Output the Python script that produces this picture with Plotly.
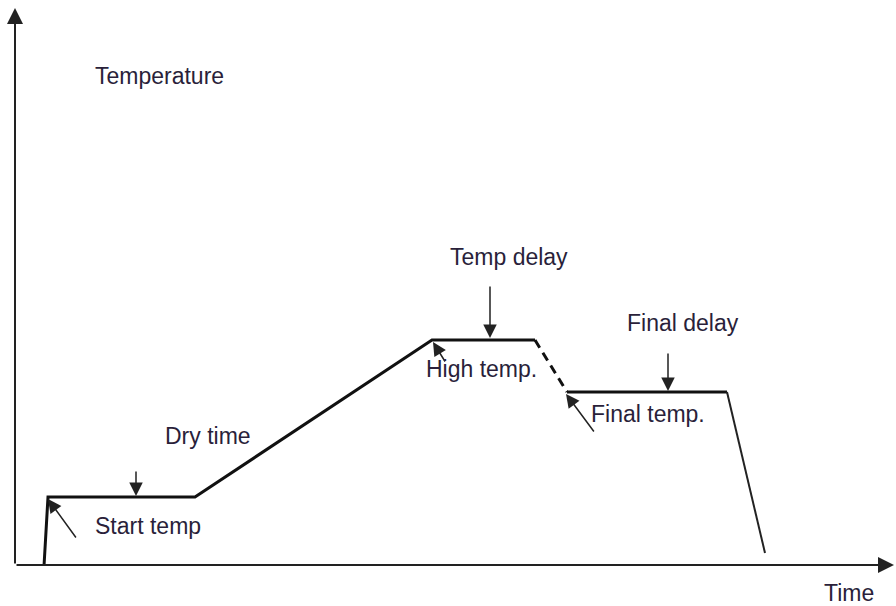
import plotly.graph_objects as go

# Pixel-space schematic of a temperature program
W, H = 896, 606

# profile segments (x in px, y in px from top)
rise_x = [44, 48, 195, 432, 535]
rise_y = [566, 497, 497, 340, 340]
ramp_down_x = [535, 567]
ramp_down_y = [340, 392]
final_x = [567, 727]
final_y = [392, 392]
cool_x = [727, 765]
cool_y = [392, 553]

# axes (origin, ends)
axis_origin = (15, 565)
axis_y_top = (15, 8)
axis_x_right = (894, 565)

# labels
labels = ["Temperature", "Dry time", "Start temp", "Temp delay", "High temp.",
          "Final delay", "Final temp.", "Time"]
label_x = [93, 163, 93, 448, 424, 625, 589, 822]
label_y = [76, 436, 526, 257, 369, 323, 414, 593]

# pointer arrows: tail -> head
arrow_tail_x = [77, 136, 446, 490, 595, 668]
arrow_tail_y = [539, 470, 363, 285, 433, 352]
arrow_head_x = [48, 136, 433, 490, 566, 668]
arrow_head_y = [499, 496, 342, 338, 394, 391]

fig = go.Figure()
line_col = "#111111"
fig.add_trace(go.Scatter(x=rise_x, y=rise_y, mode="lines",
                         line=dict(color=line_col, width=3), hoverinfo="skip"))
fig.add_trace(go.Scatter(x=ramp_down_x, y=ramp_down_y, mode="lines",
                         line=dict(color=line_col, width=3, dash="9px,6px"), hoverinfo="skip"))
fig.add_trace(go.Scatter(x=final_x, y=final_y, mode="lines",
                         line=dict(color=line_col, width=3), hoverinfo="skip"))
fig.add_trace(go.Scatter(x=cool_x, y=cool_y, mode="lines",
                         line=dict(color="#222222", width=2), hoverinfo="skip"))

annotations = []
# axes with arrowheads
for end in (axis_y_top, axis_x_right):
    annotations.append(dict(x=end[0], y=end[1], ax=axis_origin[0], ay=axis_origin[1],
                            xref="x", yref="y", axref="x", ayref="y", text="",
                            showarrow=True, arrowhead=2, arrowsize=1.6, arrowwidth=2,
                            arrowcolor="#222222", standoff=0))
for tx, ty, hx, hy in zip(arrow_tail_x, arrow_tail_y, arrow_head_x, arrow_head_y):
    annotations.append(dict(x=hx, y=hy, ax=tx, ay=ty, xref="x", yref="y",
                            axref="x", ayref="y", text="", showarrow=True,
                            arrowhead=2, arrowsize=1.8, arrowwidth=1.5,
                            arrowcolor="#222222", standoff=0))
for t, x, y in zip(labels, label_x, label_y):
    annotations.append(dict(x=x, y=y, xref="x", yref="y", text=t, showarrow=False,
                            xanchor="left", yanchor="middle",
                            font=dict(family="Liberation Sans, Arial", size=23,
                                      color="#2a1f3a")))

fig.update_layout(
    width=W, height=H, margin=dict(l=0, r=0, t=0, b=0),
    paper_bgcolor="white", plot_bgcolor="white", showlegend=False,
    xaxis=dict(range=[0, W], visible=False, fixedrange=True),
    yaxis=dict(range=[H, 0], visible=False, fixedrange=True),
    annotations=annotations,
)
fig.write_html("out.html", config={"displayModeBar": False},
               post_script="document.body.style.margin='0';document.body.style.overflow='hidden';")
